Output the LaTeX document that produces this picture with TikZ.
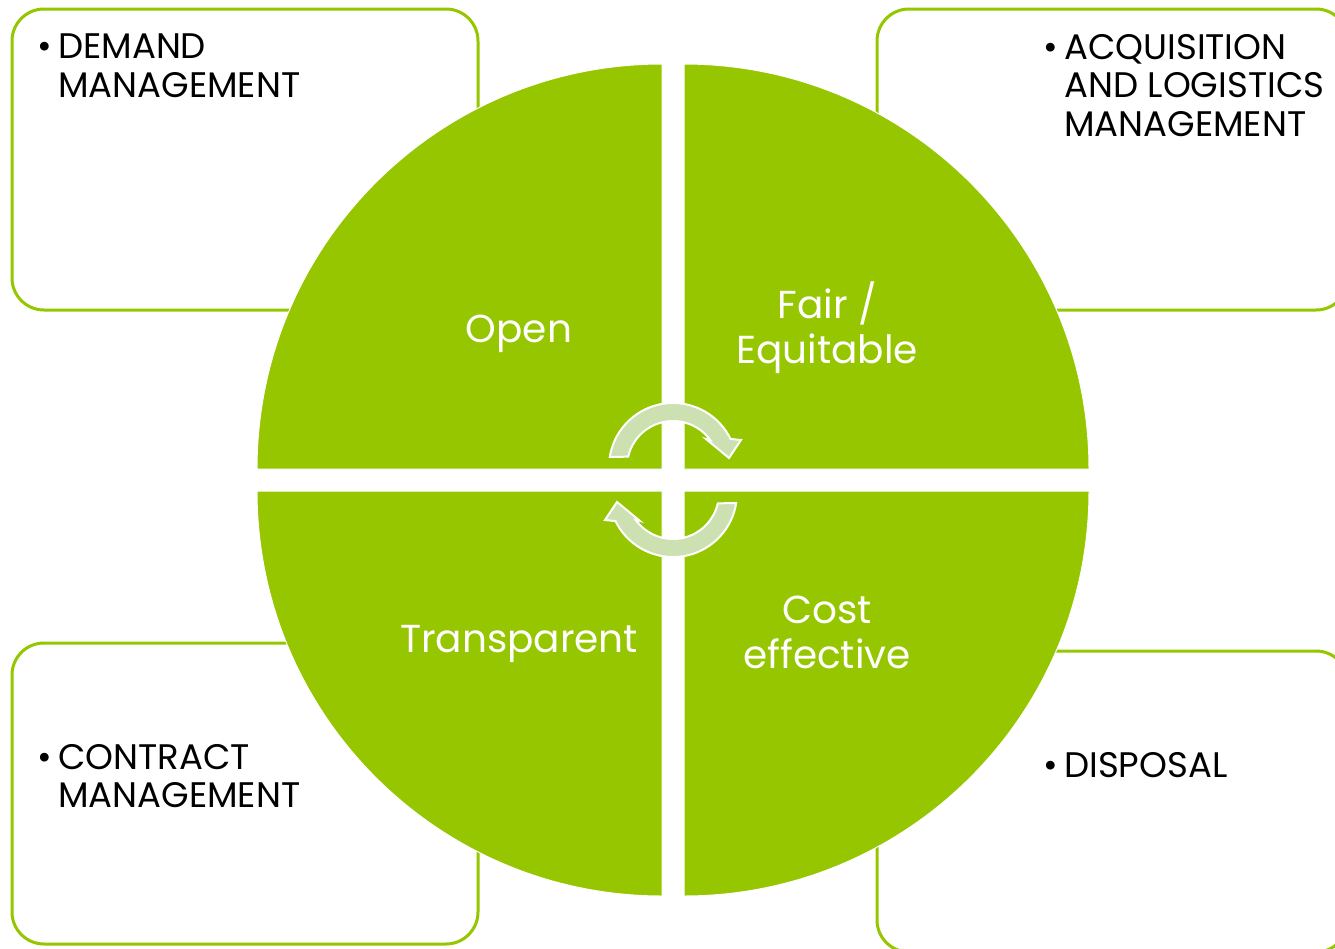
\documentclass[tikz,border=0pt]{standalone}
\usepackage{fontspec}
\setmainfont{Poppins}
\usepackage{tikz}
\usetikzlibrary{positioning}

\definecolor{leaf}{RGB}{149,198,0}
\definecolor{paleleaf}{RGB}{204,224,178}

\tikzset{
  panel/.style={draw=leaf, line width=3pt, rounded corners=32pt, fill=white},
  quarter/.style={fill=leaf, draw=white, line width=1pt},
  turnarrow/.style={fill=paleleaf, draw=white, line width=2pt, line join=miter},
  boxtext/.style={anchor=north west, inner sep=0pt, align=left,
    font=\fontsize{35.5}{38.5}\selectfont},
  quartertext/.style={text=white, inner sep=0pt, align=center,
    font=\fontsize{39}{45}\selectfont},
  % half-turn arrow around its own centre
  turn/.pic={
    \filldraw[turnarrow] (189:64) arc[start angle=189, end angle=334, radius=64]
      -- (68,-27) -- (56,-9) -- (33,-28) -- (324:46)
      arc[start angle=324, end angle=193, radius=46] -- cycle;
  }
}

\begin{document}
\begin{tikzpicture}[x=1pt, y=-1pt]
	\useasboundingbox (0,0) rectangle (1335,948);
	% the four boxes behind the circle
	\draw[panel] (12,9) rectangle (478,310);
	\draw[panel] (877,9) rectangle (1348,310);
	\draw[panel] (12,643) rectangle (478,944);
	\draw[panel] (877,651) rectangle (1348,952);
	\node[boxtext] (demand) at (58,34) {\llap{\textbullet\hspace{6pt}}DEMAND\\MANAGEMENT};
	\node[boxtext] (acquisition) at (1064,34) {\llap{\textbullet\hspace{6pt}}ACQUISITION\\AND LOGISTICS\\MANAGEMENT};
	\node[boxtext] (contract) at (58,744) {\llap{\textbullet\hspace{6pt}}CONTRACT\\MANAGEMENT};
	\node[boxtext] (disposal) at (1064,752) {\llap{\textbullet\hspace{6pt}}DISPOSAL};
	% quarters of the circle
	\foreach \a/\cx/\cy in {180/662/469, 270/684/469, 0/684/491, 90/662/491}
		\filldraw[quarter] (\cx,\cy) -- ++(\a:405) arc[start angle=\a, delta angle=90, radius=405] -- cycle;
	\node[quartertext, anchor=base] (open) at (519,342) {Open};
	\node[quartertext, anchor=north] (fair) at (827,282) {Fair /\\Equitable};
	\node[quartertext, anchor=base] (transparent) at (519,652) {Transparent};
	\node[quartertext, anchor=north] (cost) at (827,596) {Cost\\effective};
	% turning arrows in the middle
	\pic at (673,467) {turn};
	\pic[rotate=180] at (673,493) {turn};
\end{tikzpicture}
\end{document}
